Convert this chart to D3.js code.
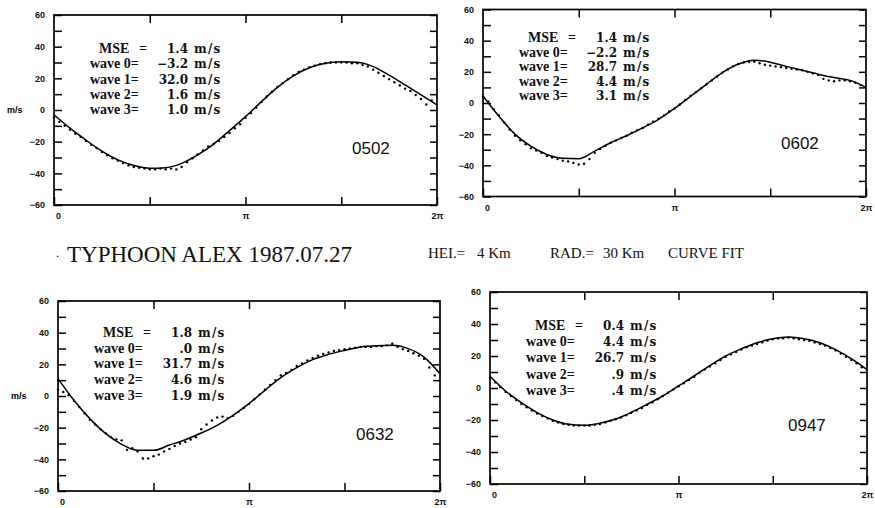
<!DOCTYPE html>
<html>
<head>
<meta charset="utf-8">
<script src="https://cdn.jsdelivr.net/npm/d3@7"></script>
<style>
  body { margin: 0; background: #fff; }
  svg { display: block; }
  .tick text { font-family: "Liberation Sans", Arial, sans-serif; font-weight: bold; font-size: 9px; fill: #111; }
  .tick line { stroke: #000; stroke-width: 1.5; }
</style>
</head>
<body>
<svg id="chart" width="875" height="508"></svg>
<script>
// angle grids (degrees, 0..2pi)
const fitDeg = [0, 15, 30, 45, 60, 75, 90, 105, 120, 135, 150, 165, 180, 195, 210, 225, 240, 255, 270, 285, 300, 315, 330, 345, 360];
const obsDeg = [0, 5, 10, 15, 20, 25, 30, 35, 40, 45, 50, 55, 60, 65, 70, 75, 80, 85, 90, 95, 100, 105, 110, 115,
  120, 125, 130, 135, 140, 145, 150, 155, 160, 165, 170, 175, 180, 185, 190, 195, 200, 205, 210, 215, 220, 225, 230, 235,
  240, 245, 250, 255, 260, 265, 270, 275, 280, 285, 290, 295, 300, 305, 310, 315, 320, 325, 330, 335, 340, 345, 350, 355];

// 0502
const fit0502 = [-3, -11.5, -19, -26, -31.5, -35, -36.8, -36.4, -33.7, -28.4, -21.5, -13, -4.2, 5.3, 14.3, 21.5, 26.7, 29.5, 30.5, 30.1, 27.4, 22, 15.8, 9.5, 3.2];
const obs0502 = [-4.5, -7.5, -10, -12.5, -15, -17, -19.5, -22, -24, -26.5, -28.5, -30.5, -32, -33.5, -35, -36, -36.5, -37, -37.5, -37.5, -37, -37.5, -37, -37.5,
  -36, -33, -30.5, -28, -25.5, -23, -21.5, -19.5, -17, -14.5, -11.5, -9, -5, -2, 1.5, 5, 8.5, 11.5, 14.5, 17, 19.5, 22, 24, 25.5,
  27, 28, 29, 29.5, 30, 30, 30, 30, 29.5, 29.5, 28.5, 27.5, 25.5, 23.5, 21.5, 19.5, 17.5, 15.5, 13.5, 12, 9.5, 7, 3.5, 6];
const stats0502 = ["1.4", "\u22123.2", "32.0", "1.6", "1.0"];

// 0602
const fit0602 = [4.5, -8.5, -20, -27.7, -33, -35.5, -35.7, -30.9, -25.5, -21, -16, -10.5, -3.5, 4.3, 12, 19.5, 25, 27.5, 26.2, 23.5, 21, 18.5, 16.3, 14.5, 10];
const obs0602 = [4, 1, -4, -8, -12.5, -17, -21, -24, -26.5, -29, -30.5, -32, -34, -35, -36, -37, -37.5, -38.5, -39.5, -39, -36, -32, -29.5, -27.5,
  -25.5, -24, -22.5, -21, -19, -17.5, -16, -14, -12, -10, -8, -5.5, -3.5, -1, 2, 4.5, 7, 9.5, 12, 14.5, 17, 19.5, 21.5, 23.5,
  25, 26, 26.5, 26.5, 25.5, 24.5, 24, 23.5, 23, 22.5, 22, 21.5, 21, 20, 19, 18, 15.5, 14.5, 14, 14.5, 14.5, 14, 13, 11.5];
const stats0602 = ["1.4", "\u22122.2", "28.7", "4.4", "3.1"];

// 0632
const fit0632 = [11, -2.7, -14.3, -23.8, -30.5, -34.3, -34.3, -31, -27.6, -23.4, -18.5, -12.2, -4.8, 3.6, 11.6, 17.9, 23, 26.3, 28.8, 31, 31.8, 32, 29.9, 24.6, 14];
const obs0632 = [4, 2.5, 0.5, -3, -7, -11, -15, -18, -21, -23.5, -26, -27.5, -28, -34, -33, -35, -39.5, -39.5, -38, -37, -35, -33.5, -31.5, -30,
  -29, -27.5, -26, -21, -18, -15.5, -13.5, -13, -14, -12.5, -10, -7.5, -5, -2, 1, 4, 7, 10, 13, 14.5, 16.5, 19, 20.5, 22.5,
  24, 25.5, 26.5, 27.5, 28.5, 29, 29.5, 30, 30.5, 31, 31, 31, 31.5, 31.5, 32, 33, 31, 29.5, 28.5, 27, 25.5, 23.5, 18, 13];
const stats0632 = ["1.8", ".0", "31.7", "4.6", "1.9"];

// 0947
const fit0947 = [7.3, -2, -9.2, -15.4, -20, -22.7, -23.3, -22, -19.4, -15.2, -10.2, -5, 1.3, 7.5, 14, 20, 24.5, 28.3, 30.8, 31.9, 30.8, 28.3, 24, 18.3, 11.5];
const obs0947 = [6.5, 3.5, 0.5, -2.5, -5, -7.5, -10, -12, -14, -16, -17.5, -19, -20.5, -21.5, -22.5, -23, -23.5, -23.5, -23.5, -23.5, -23, -22.5, -21.5, -20.5,
  -19.5, -18.5, -17, -15.5, -14, -12.5, -10.5, -9, -7, -5, -3, -1, 1, 3, 5, 7, 9.5, 11.5, 13.5, 15.5, 17.5, 19.5, 21, 22.5,
  24, 25.5, 26.5, 27.5, 28.5, 29.5, 30.5, 31, 31, 31.5, 31, 30.5, 30, 29.5, 28.5, 27.5, 26.5, 25, 23.5, 21.5, 19.5, 17.5, 15.5, 13];
const stats0947 = ["0.4", "4.4", "26.7", ".9", ".4"];

const statLabels = ["MSE", "wave 0=", "wave 1=", "wave 2=", "wave 3="];
const yTicks = [-60, -50, -40, -30, -20, -10, 0, 10, 20, 30, 40, 50, 60];
const xTicks = [0, 90, 180, 270, 360];
const xTickLabels = ["0", "", "\u03c0", "", "2\u03c0"];

const titleText = "TYPHOON ALEX 1987.07.27";
const footerItems = ["HEI.=", "4 Km", "RAD.=", "30 Km", "CURVE FIT"];

// layout of the four frames
const panels = [
  { id: "0502", fit: fit0502, obs: obs0502, stats: stats0502, x0: 54, x1: 437, y0: 15, y1: 205, tTop: 38, tGap: 15.3, unit: true },
  { id: "0602", fit: fit0602, obs: obs0602, stats: stats0602, x0: 483, x1: 866, y0: 9.5, y1: 196.5, tTop: 32.5, tGap: 14.5, unit: false },
  { id: "0632", fit: fit0632, obs: obs0632, stats: stats0632, x0: 58, x1: 440, y0: 301, y1: 491, tTop: 36, tGap: 15.7, unit: true },
  { id: "0947", fit: fit0947, obs: obs0947, stats: stats0947, x0: 490, x1: 867, y0: 292, y1: 484, tTop: 38, tGap: 16.2, unit: false }
];

const svg = d3.select("#chart");
const labelFont = '"Liberation Serif", serif';
const valueFont = '"DejaVu Serif", serif';

function fmtY(d) {
  if (d % 20 !== 0) return "";
  return d < 0 ? "\u2212" + (-d) : String(d);
}

function drawPanel(p) {
  const x = d3.scaleLinear().domain([0, 360]).range([p.x0, p.x1]);
  const y = d3.scaleLinear().domain([-60, 60]).range([p.y1, p.y0]);
  const g = svg.append("g");

  // axes, ticks pointing inward
  g.append("g")
    .attr("transform", `translate(${p.x0},0)`)
    .call(d3.axisLeft(y).tickValues(yTicks).tickSize(-8).tickPadding(9).tickFormat(fmtY))
    .call((a) => a.select(".domain").remove());

  g.append("g")
    .attr("transform", `translate(${p.x1},0)`)
    .call(d3.axisRight(y).tickValues(yTicks).tickSize(-7).tickFormat(""))
    .call((a) => a.select(".domain").remove());

  g.append("g")
    .attr("transform", `translate(0,${p.y1})`)
    .call(d3.axisBottom(x).tickValues(xTicks).tickSize(-8).tickPadding(8).tickFormat((d, i) => xTickLabels[i]))
    .call((a) => a.select(".domain").remove())
    .call((a) => a.selectAll(".tick").filter((d) => d === 0).select("text").attr("dx", 4));

  g.append("g")
    .attr("transform", `translate(0,${p.y0})`)
    .call(d3.axisTop(x).tickValues([90, 180, 270]).tickSize(-8).tickFormat(""))
    .call((a) => a.select(".domain").remove());

  g.append("rect")
    .attr("x", p.x0)
    .attr("y", p.y0)
    .attr("width", p.x1 - p.x0)
    .attr("height", p.y1 - p.y0)
    .attr("fill", "none")
    .attr("stroke", "#000")
    .attr("stroke-width", 1.7);

  if (p.unit) {
    g.append("text")
      .attr("x", p.x0 - 47)
      .attr("y", y(0))
      .attr("dy", "0.32em")
      .style("font-family", '"Liberation Sans", Arial, sans-serif')
      .style("font-weight", "bold")
      .style("font-size", "9px")
      .text("m/s");
  }

  // fitted curve
  const line = d3
    .line()
    .x((d, i) => x(fitDeg[i]))
    .y((d) => y(d))
    .curve(d3.curveMonotoneX);

  g.append("path")
    .datum(p.fit)
    .attr("d", line)
    .attr("fill", "none")
    .attr("stroke", "#000")
    .attr("stroke-width", 1.5);

  // observed points
  g.selectAll(".obs")
    .data(p.obs)
    .enter()
    .append("circle")
    .attr("class", "obs")
    .attr("cx", (d, i) => x(obsDeg[i]))
    .attr("cy", (d) => y(d))
    .attr("r", 1.2)
    .attr("fill", "#000");

  // statistics block
  const tx = p.x0 + 36;
  statLabels.forEach(function (lab, i) {
    const by = p.y0 + p.tTop + i * p.tGap;
    const t = g.append("g").style("font-weight", "bold").attr("fill", "#111");
    if (i === 0) {
      t.append("text").attr("x", tx + 9).attr("y", by)
        .style("font-family", labelFont).style("font-size", "14px").text(lab);
      t.append("text").attr("x", tx + 53).attr("y", by).attr("text-anchor", "middle")
        .style("font-family", labelFont).style("font-size", "14px").text("=");
    } else {
      t.append("text").attr("x", tx).attr("y", by)
        .style("font-family", labelFont).style("font-size", "14px").text(lab);
    }
    t.append("text").attr("x", p.x0 + 134).attr("y", by).attr("text-anchor", "end")
      .style("font-family", valueFont).style("font-size", "12px").text(p.stats[i]);
    t.append("text").attr("x", p.x0 + 140).attr("y", by)
      .style("font-family", valueFont).style("font-size", "12px")
      .style("letter-spacing", "1.2px").text("m/s");
  });

  // time label
  g.append("text")
    .attr("x", p.x0 + 298)
    .attr("y", p.y0 + 139)
    .style("font-family", '"Liberation Sans", Arial, sans-serif')
    .style("font-size", "17px")
    .attr("fill", "#111")
    .text(p.id);
}

panels.forEach(drawPanel);

// header line between the rows
svg.append("text")
  .attr("x", 56)
  .attr("y", 257)
  .style("font-family", '"Liberation Serif", serif')
  .style("font-size", "12px")
  .text(".");

svg.append("text")
  .attr("x", 67)
  .attr("y", 262)
  .style("font-family", '"Liberation Serif", serif')
  .style("font-size", "23px")
  .attr("fill", "#111")
  .text(titleText);

const footerX = [428, 477, 550, 603, 668];
footerItems.forEach(function (s, i) {
  svg.append("text")
    .attr("x", footerX[i])
    .attr("y", 258)
    .style("font-family", '"Liberation Serif", serif')
    .style("font-size", "15px")
    .attr("fill", "#111")
    .text(s);
});
</script>
</body>
</html>
